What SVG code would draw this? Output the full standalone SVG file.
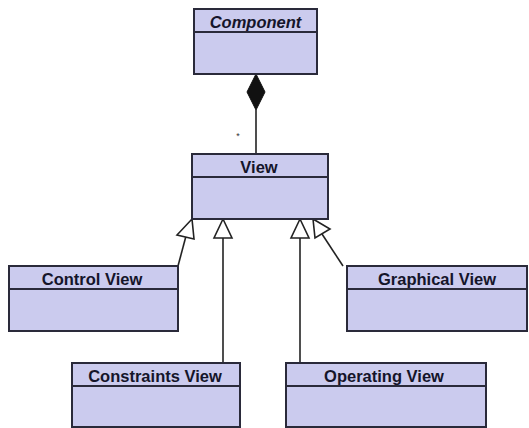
<svg xmlns="http://www.w3.org/2000/svg" width="529" height="428" viewBox="0 0 529 428">
<style>
.box{fill:#cbcbee;stroke:#2a2a3a;stroke-width:2}
.div{stroke:#2a2a3a;stroke-width:2}
.t{font-family:"Liberation Sans",Arial,sans-serif;font-weight:bold;font-size:16.5px;fill:#15152a;text-anchor:middle}
.ln{stroke:#222;stroke-width:1.6;fill:none}
.tri{fill:#fff;stroke:#222;stroke-width:1.6}
</style>
<rect width="529" height="428" fill="#fff"/>
<g id="connectors">
  <line class="ln" x1="256" y1="110" x2="256" y2="154"/>
  <polygon points="256,74 265,92 256,110 247,92" fill="#111" stroke="#111" stroke-width="1"/>
  <text x="238" y="139" font-family="Liberation Sans,Arial,sans-serif" font-size="9" fill="#333" text-anchor="middle">*</text>
  <line class="ln" x1="178" y1="266" x2="186" y2="236"/>
  <polygon class="tri" points="192,219 194,239 177,235"/>
  <line class="ln" x1="223" y1="238" x2="223" y2="363"/>
  <polygon class="tri" points="223,219 232,238 214,238"/>
  <line class="ln" x1="300" y1="238" x2="300" y2="363"/>
  <polygon class="tri" points="300,219 309,238 291,238"/>
  <line class="ln" x1="343" y1="266" x2="322" y2="234"/>
  <polygon class="tri" points="313,219 330,229 315,238"/>
</g>
<g id="component">
  <rect class="box" x="194" y="9" width="123" height="65"/>
  <line class="div" x1="194" y1="32" x2="317" y2="32"/>
  <text class="t" x="255.5" y="27.5" font-style="italic">Component</text>
</g>
<g id="view">
  <rect class="box" x="192" y="154" width="136" height="65"/>
  <line class="div" x1="192" y1="177" x2="328" y2="177"/>
  <text class="t" x="259" y="172.5">View</text>
</g>
<g id="control-view">
  <rect class="box" x="9" y="266" width="169" height="65"/>
  <line class="div" x1="9" y1="289" x2="178" y2="289"/>
  <text class="t" x="92" y="284.5">Control View</text>
</g>
<g id="graphical-view">
  <rect class="box" x="347" y="266" width="180" height="65"/>
  <line class="div" x1="347" y1="289" x2="527" y2="289"/>
  <text class="t" x="437" y="284.5">Graphical View</text>
</g>
<g id="constraints-view">
  <rect class="box" x="72" y="363" width="168" height="64"/>
  <line class="div" x1="72" y1="386" x2="240" y2="386"/>
  <text class="t" x="155" y="381.5">Constraints View</text>
</g>
<g id="operating-view">
  <rect class="box" x="286" y="363" width="200" height="64"/>
  <line class="div" x1="286" y1="386" x2="486" y2="386"/>
  <text class="t" x="384" y="381.5">Operating View</text>
</g>
</svg>
